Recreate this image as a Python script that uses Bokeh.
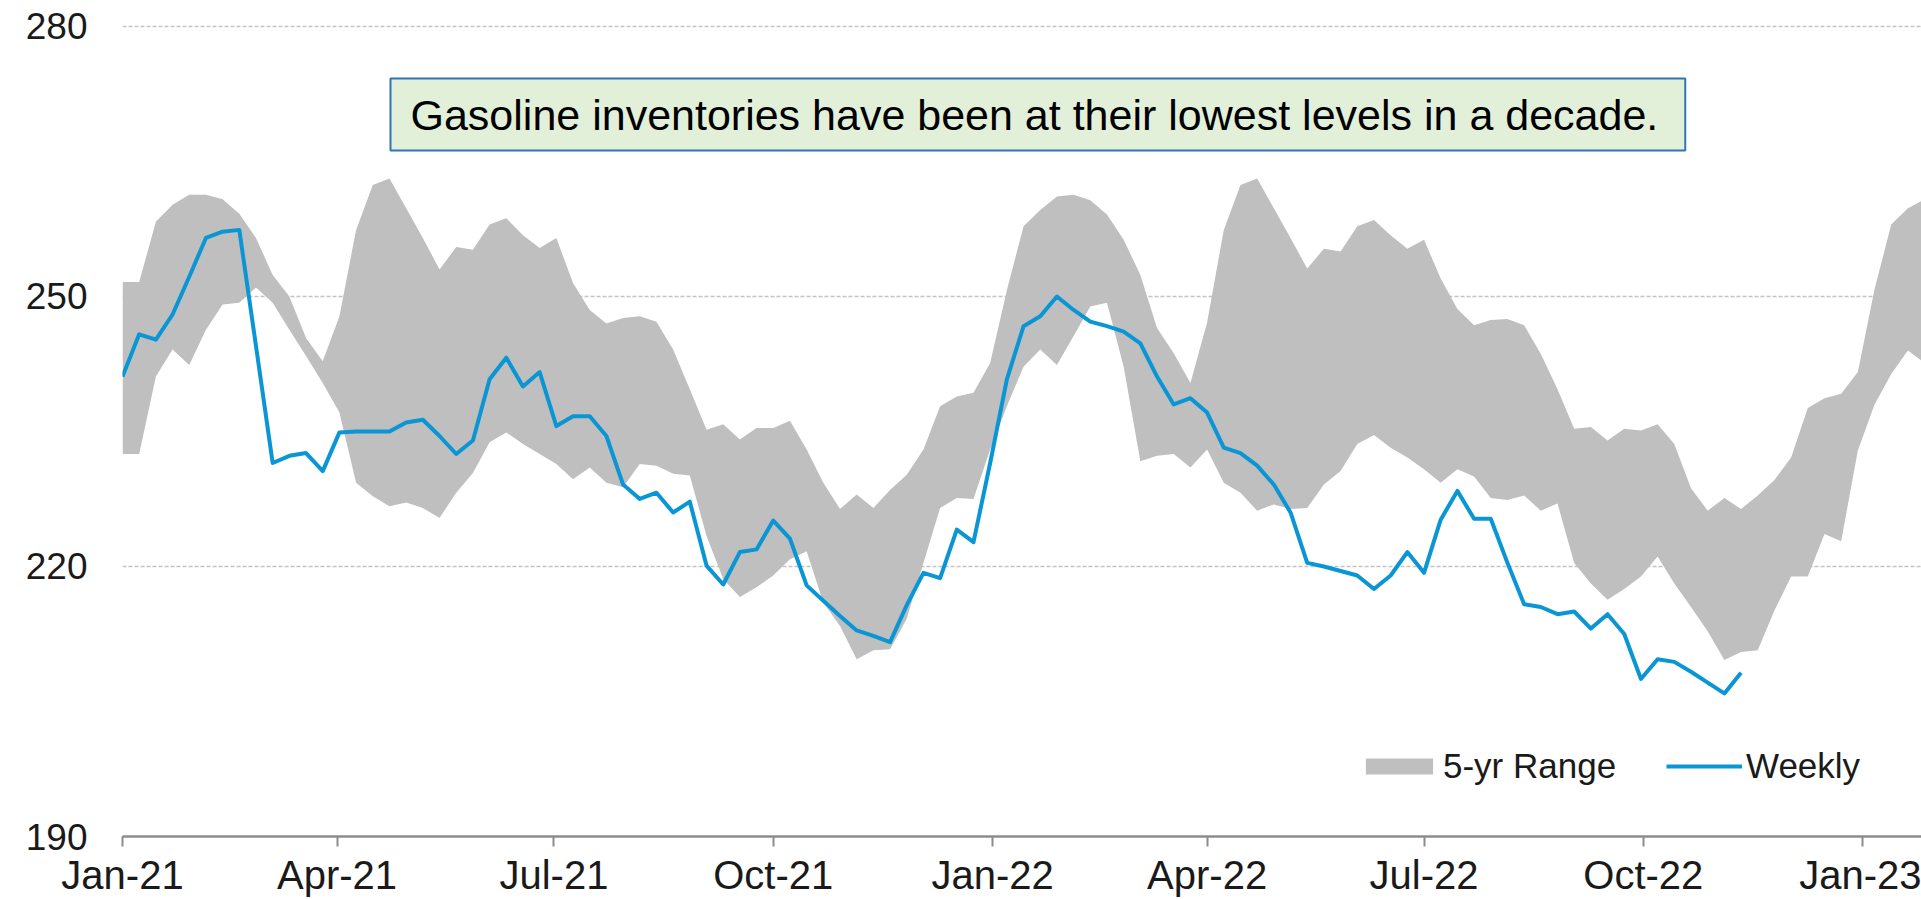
import pandas as pd
from bokeh.plotting import figure
from bokeh.models import Range1d, FixedTicker, Legend, LegendItem, Label, ColumnDataSource
from bokeh.embed import file_html
from bokeh.resources import INLINE

# ---------------- data (million barrels, weekly from 2021-01-01) ----------------
start_date = "2021-01-01"

weekly_2021 = [241.1, 245.8, 245.2, 248.0, 252.2, 256.5, 257.2, 257.4, 244.5, 231.5,
               232.3, 232.6, 230.6, 234.9, 235.0, 235.0, 235.0, 236.0, 236.3, 234.5,
               232.5, 234.0, 240.8, 243.2, 240.0, 241.6, 235.6, 236.7, 236.7, 234.5,
               229.1, 227.5, 228.2, 226.0, 227.2, 220.1, 218.0, 221.6, 221.9, 225.1,
               223.1, 217.9, 216.2, 214.5, 212.9, 212.3, 211.6, 215.7, 219.3, 218.7,
               224.1, 222.7]
weekly_2022 = [231.5, 240.8, 246.7, 247.8, 250.0, 248.5, 247.2, 246.7, 246.1, 244.8,
               241.1, 238.0, 238.7, 237.1, 233.2, 232.6, 231.2, 229.1, 226.0, 220.4,
               220.0, 219.5, 219.0, 217.5, 219.0, 221.6, 219.3, 225.2, 228.4, 225.3,
               225.3, 220.4, 215.8, 215.5, 214.7, 215.0, 213.1, 214.7, 212.5, 207.5,
               209.7, 209.4, 208.3, 207.1, 205.9, 208.2]

range_high_2021 = [251.6, 251.6, 258.3, 260.2, 261.3, 261.3, 260.8, 259.2, 256.5, 252.4,
                   250.0, 245.4, 242.8, 247.8, 257.4, 262.4, 263.1, 259.8, 256.5, 253.0,
                   255.5, 255.2, 258.0, 258.7, 256.8, 255.4, 256.5, 251.5, 248.5, 247.0,
                   247.6, 247.8, 247.2, 244.1, 239.7, 235.2, 235.8, 234.1, 235.4, 235.4,
                   236.2, 233.0, 229.3, 226.4, 228.0, 226.5, 228.5, 230.2, 233.0, 237.8,
                   238.9, 239.3]
range_high_2022 = [242.6, 250.7, 257.8, 259.6, 261.1, 261.3, 260.7, 259.1, 256.3, 252.4,
                   246.5, 243.7, 240.4, 247.1, 257.4, 262.4, 263.1, 259.8, 256.5, 253.1,
                   255.3, 255.0, 257.8, 258.5, 256.8, 255.3, 256.3, 252.0, 248.6, 246.8,
                   247.4, 247.5, 246.8, 243.6, 239.7, 235.3, 235.5, 234.0, 235.3, 235.1,
                   235.8, 233.6, 228.7, 226.2, 227.6, 226.4, 227.9, 229.6, 232.1, 237.6,
                   238.7, 239.2]
range_high_2023 = [241.6, 250.8, 258.0, 259.8, 260.8]

range_low_2021 = [232.5, 232.5, 241.1, 244.1, 242.4, 246.3, 249.1, 249.3, 251.0, 249.3,
                  246.3, 243.4, 240.4, 237.1, 229.3, 227.8, 226.7, 227.1, 226.5, 225.4,
                  228.2, 230.4, 233.8, 234.9, 233.6, 232.5, 231.4, 229.7, 231.0, 229.3,
                  228.8, 231.4, 231.2, 230.3, 230.1, 223.4, 218.6, 216.6, 217.7, 219.0,
                  220.8, 221.7, 216.0, 213.4, 209.7, 210.7, 210.8, 214.2, 220.4, 226.5,
                  227.6, 227.5]
range_low_2022 = [233.0, 237.8, 242.2, 244.1, 242.4, 245.6, 248.9, 249.3, 242.2, 231.7,
                  232.3, 232.5, 231.0, 233.0, 229.3, 228.2, 226.2, 226.9, 226.4, 226.5,
                  229.1, 230.6, 233.6, 234.6, 233.2, 232.1, 230.8, 229.3, 230.8, 230.0,
                  227.6, 227.4, 227.9, 226.2, 227.0, 220.4, 218.1, 216.3, 217.5, 218.9,
                  221.1, 218.1, 215.5, 212.8, 209.6, 210.5, 210.7, 215.1, 218.9, 218.9,
                  223.6, 222.8]
range_low_2023 = [232.9, 238.0, 241.4, 244.0, 242.6]

tick_dates = ["2021-01-01", "2021-04-01", "2021-07-01", "2021-10-01", "2022-01-01",
              "2022-04-01", "2022-07-01", "2022-10-01", "2023-01-01"]
tick_labels = ["Jan-21", "Apr-21", "Jul-21", "Oct-21", "Jan-22",
               "Apr-22", "Jul-22", "Oct-22", "Jan-23"]
y_ticks = [190, 220, 250, 280]
note_text = "Gasoline inventories have been at their lowest levels in a decade."

# ---------------- build sources ----------------
weekly = weekly_2021 + weekly_2022
high = range_high_2021 + range_high_2022 + range_high_2023
low = range_low_2021 + range_low_2022 + range_low_2023

band_src = ColumnDataSource(dict(
    date=pd.date_range(start_date, periods=len(high), freq="7D"),
    high=high, low=low))
line_src = ColumnDataSource(dict(
    date=pd.date_range(start_date, periods=len(weekly), freq="7D"),
    weekly=weekly))

FONT = "Liberation Sans"
t0 = pd.Timestamp(start_date)

p = figure(width=1921, height=899, x_axis_type="datetime",
           output_backend="svg", toolbar_location=None,
           x_range=Range1d(t0, t0 + pd.Timedelta(days=754.7)),
           y_range=Range1d(190, 280.22),
           min_border_left=122, min_border_right=0,
           min_border_top=24, min_border_bottom=61)
p.outline_line_color = None
p.background_fill_color = "white"

band = p.varea(x="date", y1="low", y2="high", source=band_src,
               fill_color="#BFBFBF", fill_alpha=1.0)
line = p.line(x="date", y="weekly", source=line_src,
              line_color="#0A96D4", line_width=4, line_join="round")

# x axis
tick_ms = [int(pd.Timestamp(d).value // 10**6) for d in tick_dates]
p.xaxis.ticker = FixedTicker(ticks=tick_ms)
p.xaxis.major_label_overrides = {ms: lab for ms, lab in zip(tick_ms, tick_labels)}
p.xaxis.minor_tick_line_color = None
p.xaxis.axis_line_color = "#8C8C8C"
p.xaxis.axis_line_width = 2.5
p.xaxis.major_tick_line_color = "#8C8C8C"
p.xaxis.major_tick_line_width = 2
p.xaxis.major_tick_out = 10
p.xaxis.major_tick_in = 0
p.xaxis.major_label_standoff = 6
p.xaxis.major_label_text_font = FONT
p.xaxis.major_label_text_font_size = "40px"
p.xaxis.major_label_text_color = "#1A1A1A"

# y axis
p.yaxis.ticker = FixedTicker(ticks=y_ticks)
p.yaxis.axis_line_color = None
p.yaxis.major_tick_line_color = None
p.yaxis.minor_tick_line_color = None
p.yaxis.major_label_standoff = 29
p.yaxis.major_label_text_font = FONT
p.yaxis.major_label_text_font_size = "37px"
p.yaxis.major_label_text_color = "#1A1A1A"

# grid
p.xgrid.grid_line_color = None
p.ygrid.ticker = FixedTicker(ticks=y_ticks[1:])
p.ygrid.grid_line_color = "#C4C4C4"
p.ygrid.grid_line_width = 1.5
p.ygrid.grid_line_dash = "4 2"

# legends (two, so each swatch gets its own width)
legend_band = Legend(items=[LegendItem(label="5-yr Range", renderers=[band])],
                     orientation="horizontal", location=(1235, 50),
                     glyph_width=84, glyph_height=20, label_standoff=2,
                     padding=0, margin=0, border_line_color=None,
                     background_fill_alpha=0,
                     label_text_font=FONT, label_text_font_size="35px",
                     label_text_color="#1A1A1A")
legend_line = Legend(items=[LegendItem(label="Weekly", renderers=[line])],
                     orientation="horizontal", location=(1544, 50),
                     glyph_width=76, glyph_height=20, label_standoff=4,
                     padding=0, margin=0, border_line_color=None,
                     background_fill_alpha=0,
                     label_text_font=FONT, label_text_font_size="35px",
                     label_text_color="#1A1A1A")
p.add_layout(legend_band)
p.add_layout(legend_line)

# annotation box
note = Label(x=268, y=722, x_units="screen", y_units="screen", text=note_text,
             text_font=FONT, text_font_size="43px", text_color="black",
             text_baseline="middle", text_align="left",
             background_fill_color="#E2F0D9", background_fill_alpha=1.0,
             border_line_color="#2E75B6", border_line_width=2,
             padding=dict(left=20, right=27, top=12, bottom=12))
p.add_layout(note)

open("out.html", "w").write(file_html(p, INLINE))
